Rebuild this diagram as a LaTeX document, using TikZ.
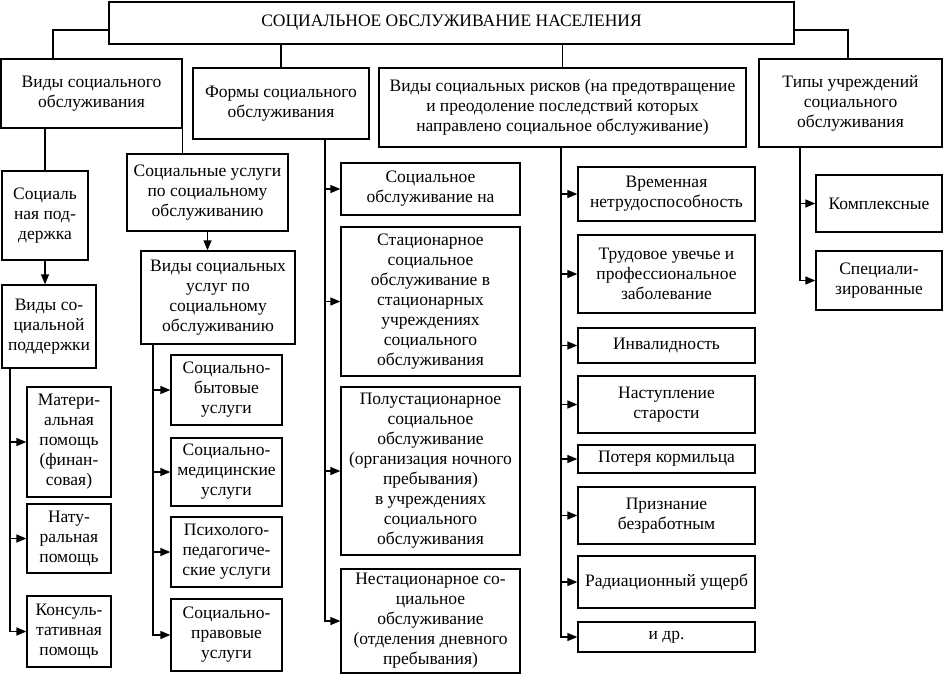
\documentclass[tikz,border=0pt]{standalone}
\usepackage{fontspec}
\setmainfont{Liberation Serif}
\usepackage{tikz}
\usetikzlibrary{arrows.meta}
\newcommand{\schemebox}[6]{%
  \pgfmathsetmacro{\bw}{#4-#2}%
  \pgfmathsetmacro{\bh}{#5-#3}%
  \node[block, minimum width=\bw pt, minimum height=\bh pt] (#1) at ({(#2+#4)/2},{(#3+#5)/2}) {#6};%
}

\begin{document}
\begin{tikzpicture}[x=1pt, y=-1pt,
    block/.style={draw=black, line width=1.3pt, inner sep=0pt, align=center, font=\fontsize{17.5}{20}\selectfont},
    link/.style={draw=black, line width=1.3pt},
    arr/.style={link, -{Triangle[length=10pt, width=8pt]}}]
    \useasboundingbox[fill=white] (0,0) rectangle (944,683);

    % Top row
    \schemebox{title}{109}{2}{794}{44}{СОЦИАЛЬНОЕ ОБСЛУЖИВАНИЕ НАСЕЛЕНИЯ}
    \schemebox{vidy}{1}{59}{182}{128}{Виды социального\\обслуживания}
    \schemebox{forms}{193}{68}{369}{139}{Формы социального\\обслуживания}
    \schemebox{risks}{379}{68}{746}{147}{Виды социальных рисков (на предотвращение\\и преодоление последствий которых\\направлено социальное обслуживание)}
    \schemebox{tipy}{759}{59}{942}{147}{Типы учреждений\\социального\\обслуживания}

    % Social support (left column)
    \schemebox{podd}{2}{171}{88}{260}{Социаль\\ная под-\\держка}
    \schemebox{vidpodd}{2}{285}{96}{368}{Виды со-\\циальной\\поддержки}
    \schemebox{mater}{27}{387}{111}{497}{Матери-\\альная\\помощь\\(финан-\\совая)}
    \schemebox{natur}{27}{504}{111}{573}{Нату-\\ральная\\помощь}
    \schemebox{konsult}{27}{596}{111}{667}{Консуль-\\тативная\\помощь}

    % Social services
    \schemebox{uslugi}{127}{154}{288}{231}{Социальные услуги\\по социальному\\обслуживанию}
    \schemebox{viduslug}{141}{251}{295}{344}{Виды социальных\\услуг по\\социальному\\обслуживанию}
    \schemebox{byt}{171}{355}{282}{425}{Социально-\\бытовые\\услуги}
    \schemebox{med}{171}{438}{282}{506}{Социально-\\медицинские\\услуги}
    \schemebox{psych}{171}{517}{282}{587}{Психолого-\\педагогиче-\\ские услуги}
    \schemebox{prav}{171}{599}{282}{671}{Социально-\\правовые\\услуги}

    % Forms
    \schemebox{homef}{341}{163}{520}{215}{Социальное\\обслуживание на}
    \schemebox{stat}{341}{227}{520}{376}{Стационарное\\социальное\\обслуживание в\\стационарных\\учреждениях\\социального\\обслуживания}
    \schemebox{polust}{341}{387}{520}{555}{Полустационарное\\социальное\\обслуживание\\(организация ночного\\пребывания)\\в учреждениях\\социального\\обслуживания}
    \schemebox{nestat}{341}{569}{520}{673}{Нестационарное со-\\циальное\\обслуживание\\(отделения дневного\\пребывания)}

    % Risks
    \schemebox{vremen}{578}{167}{755}{221}{Временная\\нетрудоспособность}
    \schemebox{trud}{578}{235}{755}{313}{Трудовое увечье и\\профессиональное\\заболевание}
    \schemebox{invalid}{578}{328}{755}{363}{Инвалидность}
    \schemebox{star}{578}{376}{755}{433}{Наступление\\старости}
    \schemebox{korm}{578}{445}{755}{473}{Потеря кормильца}
    \schemebox{bezrab}{578}{487}{755}{544}{Признание\\безработным}
    \schemebox{rad}{578}{556}{755}{608}{Радиационный ущерб}
    \schemebox{dr}{578}{622}{755}{652}{и др.}

    % Types of institutions
    \schemebox{kompl}{816}{175}{942}{232}{Комплексные}
    \schemebox{spec}{816}{251}{942}{310}{Специали-\\зированные}

    % trunks
    \coordinate (tl) at (53,30);
    \coordinate (tr) at (848,30);
    \coordinate (tpodd) at (10,0);
    \coordinate (tusl) at (153,0);
    \coordinate (tform) at (325,0);
    \coordinate (trisk) at (561,0);
    \coordinate (ttip) at (800,0);

    % from the title
    \draw[link] (title.west |- tl) -| (vidy.north -| tl);
    \draw[link] (title.south -| forms.north) -- (forms.north);
    \draw[link] (title.south -| risks.north) -- (risks.north);
    \draw[link] (title.east |- tr) -| (tipy.north -| tr);

    % second level
    \draw[link] (vidy.south -| podd.north) -- (podd.north);
    \draw[link] (vidy.south east) -- (vidy.south east |- uslugi.north);
    \draw[arr] (podd.south) -- (podd.south |- vidpodd.north);
    \draw[arr] (uslugi.south) -- (uslugi.south |- viduslug.north);

    % branches
    \foreach \kid in {mater, natur, konsult}
      \draw[arr] (vidpodd.south -| tpodd) |- (\kid.west);
    \foreach \kid in {byt, med, psych, prav}
      \draw[arr] (viduslug.south -| tusl) |- (\kid.west);
    \foreach \kid in {homef, stat, polust, nestat}
      \draw[arr] (forms.south -| tform) |- (\kid.west);
    \foreach \kid in {vremen, trud, invalid, star, korm, bezrab, rad, dr}
      \draw[arr] (risks.south -| trisk) |- (\kid.west);
    \foreach \kid in {kompl, spec}
      \draw[arr] (tipy.south -| ttip) |- (\kid.west);
\end{tikzpicture}
\end{document}
